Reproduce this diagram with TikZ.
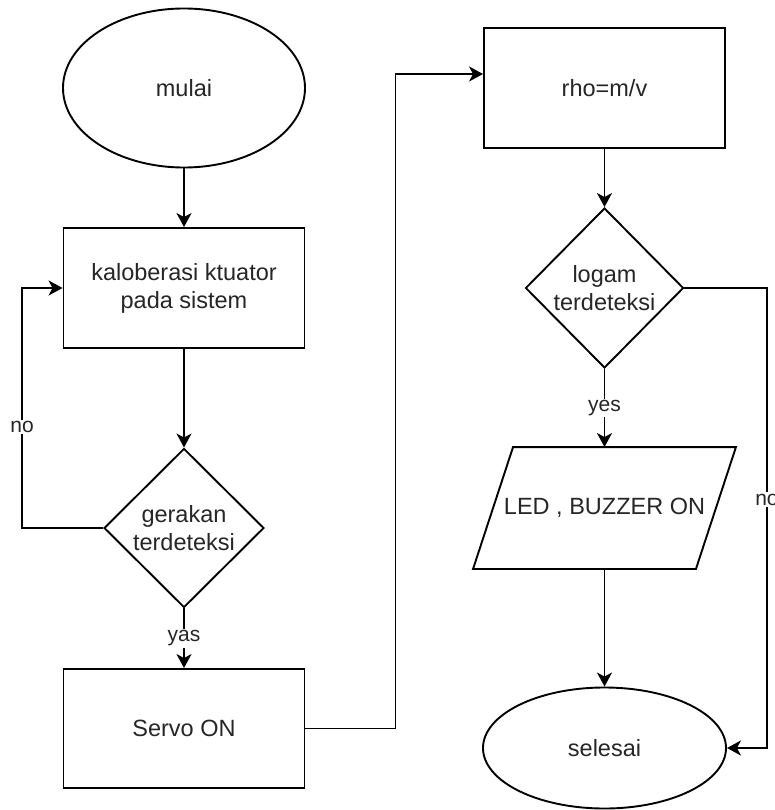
\documentclass[tikz,border=0pt]{standalone}
\usepackage{fontspec}
\setmainfont{Liberation Sans}
\usetikzlibrary{arrows.meta, shapes.geometric, calc}

\tikzset{
  flow/.style={draw=black, line width=1.9pt, fill=white, inner sep=0pt,
    font=\fontsize{23.5}{28}\selectfont, text=black!85, align=center},
  terminal/.style={flow, ellipse},
  process/.style={flow, rectangle, minimum width=241pt, minimum height=120pt},
  decision/.style={flow, diamond, minimum width=160pt, minimum height=159pt},
  line/.style={line width=1.9pt, -{Stealth[length=14pt, width=15pt, inset=4pt]}},
  cond/.style={fill=white, inner sep=1.5pt, text=black!85, font=\fontsize{21}{25}\selectfont}
}

\begin{document}
\begin{tikzpicture}[x=1pt, y=-1pt]
        \useasboundingbox (0,0) rectangle (774,810);

        \node[terminal, minimum width=242pt, minimum height=159pt] (mulai) at (184,88) {mulai};
        \node[process] (kal) at (184,288) {kaloberasi ktuator\\pada sistem};
        \node[decision] (gerak) at (184,528) {gerakan\\terdeteksi};
        \node[process, minimum height=119pt] (servo) at (184,728.5) {Servo ON};

        \node[process] (rho) at (604.5,88) {rho=m/v};
        \node[decision, minimum width=158pt, minimum height=160pt] (logam) at (604.5,288) {logam\\terdeteksi};
        \node[flow, draw=none, fill=none, minimum width=221pt, minimum height=120pt] (led) at (604.5,508) {LED , BUZZER ON};
        \draw[line width=1.9pt] ([xshift=20pt]led.north west) -- ([xshift=20pt]led.north east)
            -- ([xshift=-20pt]led.south east) -- ([xshift=-20pt]led.south west) -- cycle;
        \node[terminal, minimum width=243pt, minimum height=121pt] (selesai) at (604.5,748) {selesai};

        \draw[line] (mulai.south) -- (kal.north);
        \draw[line] (kal.south) -- (gerak.north);
        \draw[line] (gerak.south) -- node[cond] {yas} (servo.north);
        \draw[line] (gerak.west) -- ++(-81,0) |- node[cond, pos=0.21] {no} (kal.west);
        \draw[line] (servo.east) -- ++(90,0) |- ([yshift=14pt]rho.west);

        \draw[line] (rho.south) -- (logam.north);
        \draw[line] (logam.south) -- node[cond] {yes} (led.north);
        \draw[line] (led.south) -- (selesai.north);
        \draw[line] (logam.east) -- ++(82.5,0) |- node[cond, pos=0.23] {no} (selesai.east);
    \end{tikzpicture}
\end{document}
